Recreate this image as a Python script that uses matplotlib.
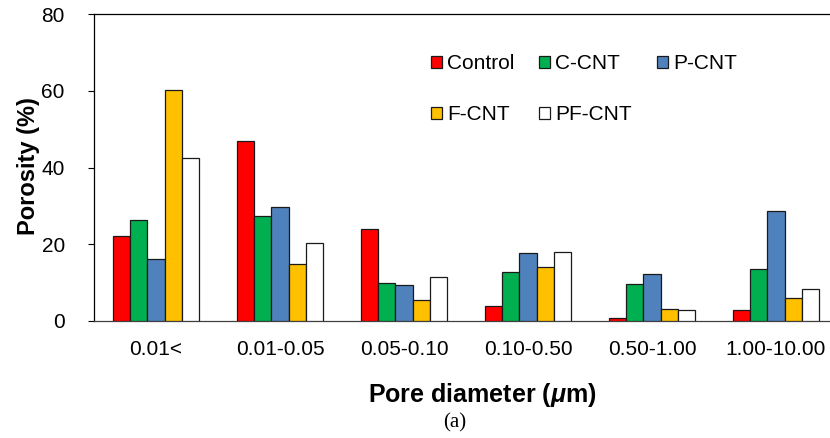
import numpy as np
import matplotlib
matplotlib.use("Agg")
import matplotlib.pyplot as plt

plt.rcParams["font.family"] = ["Liberation Sans", "DejaVu Sans"]
plt.rcParams["mathtext.fontset"] = "custom"
plt.rcParams["mathtext.it"] = "Liberation Sans:italic:bold"
plt.rcParams["mathtext.rm"] = "Liberation Sans:bold"

# pore size ranges (um)
categories = ["0.01<", "0.01-0.05", "0.05-0.10", "0.10-0.50", "0.50-1.00", "1.00-10.00"]
series = ["Control", "C-CNT", "P-CNT", "F-CNT", "PF-CNT"]

control = [22.1, 46.8, 24.0, 3.9, 0.8, 2.8]
c_cnt = [26.2, 27.4, 9.8, 12.8, 9.6, 13.5]
p_cnt = [16.1, 29.7, 9.4, 17.6, 12.3, 28.6]
f_cnt = [60.2, 14.8, 5.5, 14.0, 3.0, 5.9]
pf_cnt = [42.4, 20.3, 11.4, 17.9, 2.9, 8.3]

colors = ["#FF0000", "#00B050", "#4F81BD", "#FFC000", "#FFFFFF"]
values = [control, c_cnt, p_cnt, f_cnt, pf_cnt]

fig = plt.figure(figsize=(8.3, 4.38), dpi=100)
W, H = 830, 438
# axes extends past the right edge (the original image is cropped there)
ax = fig.add_axes([94 / W, (H - 321) / H, (838 - 94) / W, (321 - 14) / H])

x = np.arange(len(categories))
bw = 0.14
handles = []
for i, (name, vals, col) in enumerate(zip(series, values, colors)):
    b = ax.bar(x + (i - 2) * bw, vals, width=bw, color=col,
               edgecolor="#1a1a1a", linewidth=0.9, label=name, zorder=3)
    handles.append(b)

ax.set_xlim(-0.5, 5.5)
ax.set_ylim(0, 80)
ax.set_yticks([0, 20, 40, 60, 80])
ax.set_xticks(x)
ax.set_xticklabels(categories)
ax.tick_params(axis="x", length=0, pad=14, labelsize=15)
ax.tick_params(axis="y", length=4, width=0.8, pad=17, labelsize=15, direction="out")

for s in ["left", "top", "bottom"]:
    ax.spines[s].set_linewidth(0.9)
ax.spines["bottom"].set_color("#404040")
ax.spines["right"].set_visible(False)

fig.text(28 / W, 1 - 166 / H, "Porosity (%)", rotation=90, ha="center", va="center",
         fontsize=17, fontweight="bold")
fig.text(482 / W, 1 - 395 / H, r"Pore diameter ($\mathit{\mu}$m)", ha="center", va="center",
         fontsize=18, fontweight="bold")
fig.text(455 / W, 1 - 423 / H, "(a)", ha="center", va="center",
         fontsize=15, family="Liberation Serif")

# reorder so the legend fills row by row
order = [0, 3, 1, 4, 2]
leg = ax.legend([handles[k] for k in order], [series[k] for k in order],
                ncol=3, frameon=False, fontsize=15,
                loc="upper left", bbox_to_anchor=(431 / W, 1 - 54 / H),
                bbox_transform=fig.transFigure, borderpad=0,
                handlelength=0.52, handleheight=0.52, handletextpad=0.25,
                columnspacing=1.2, labelspacing=1.55, borderaxespad=0)

fig.savefig("out.png", dpi=100)
